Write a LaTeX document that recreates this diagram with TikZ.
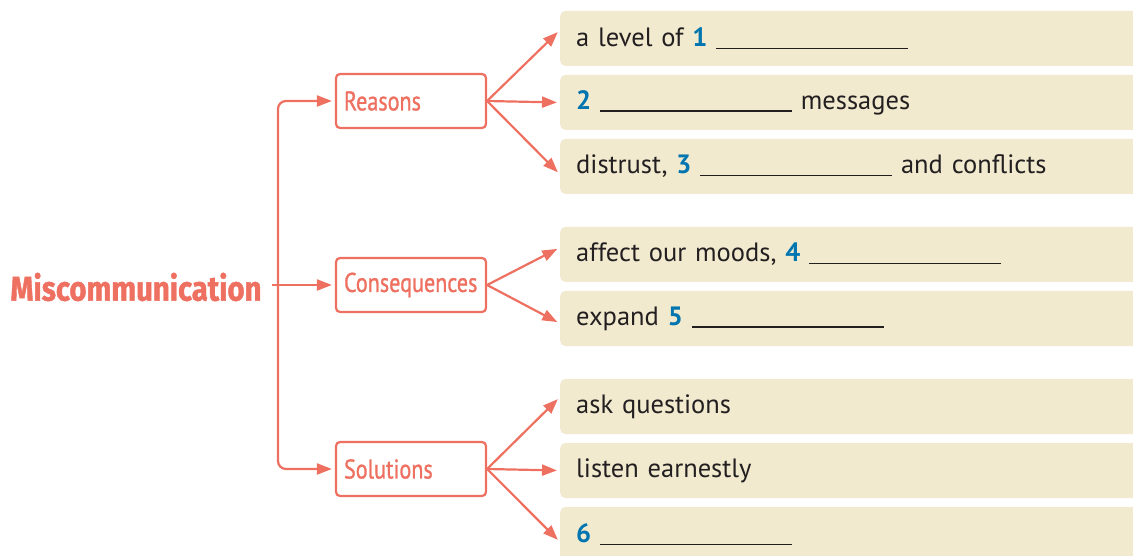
\documentclass[tikz,border=0pt]{standalone}
\usepackage{fontspec}
\setmainfont{PT Sans}
\newfontfamily\condfont[FakeStretch=0.82,FakeBold=1]{PT Sans}
\newfontfamily\headfont[FakeStretch=0.85,FakeBold=1.2]{Fira Sans}
\usetikzlibrary{arrows.meta}
\newcommand\gapline{\rule[-2.5pt]{192pt}{1.3pt}}
\newcommand\qnum[1]{{\color{numColor}\bfseries #1}}

\begin{document}
\begin{tikzpicture}[x=1pt,y=-1pt,
  conn/.style={draw=lineColor,line width=2.2pt,shorten >=3pt,-{Triangle[length=15pt,width=11pt]}},
  topic/.style={draw=lineColor,line width=2.2pt,rounded corners=4pt,fill=white,minimum width=150pt,minimum height=54pt,text width=134pt,align=left,inner xsep=8pt,text=lineColor,font=\condfont\fontsize{27}{30}\selectfont},
  answer/.style={fill=boxColor,rounded corners=5pt,minimum height=55pt,text width=560pt,inner xsep=16pt,anchor=west,align=left,text=textColor,font=\fontsize{26.5}{30}\selectfont}]
\definecolor{lineColor}{RGB}{238,112,96}
\definecolor{boxColor}{RGB}{241,234,207}
\definecolor{textColor}{RGB}{35,31,32}
\definecolor{numColor}{RGB}{0,117,176}
\useasboundingbox (0,0) rectangle (1133,556);

\node[text=lineColor,font=\headfont\bfseries\fontsize{34.5}{38}\selectfont] (misc) at (136,287) {Miscommunication};

\node[topic] (reas) at (411,101) {Reasons};
\node[topic] (cons) at (411,285) {Consequences};
\node[topic] (sol) at (411,469) {Solutions};

\node[answer] (r1) at (560, 38.5) {a level of \qnum{1} \gapline};
\node[answer] (r2) at (560,102.5) {\qnum{2} \gapline{} messages};
\node[answer] (r3) at (560,166.5) {distrust, \qnum{3} \gapline{} and conflicts};
\node[answer] (c1) at (560,254.5) {affect our moods, \qnum{4} \gapline};
\node[answer] (c2) at (560,318.5) {expand \qnum{5} \gapline};
\node[answer] (s1) at (560,406.5) {ask questions};
\node[answer] (s2) at (560,470.5) {listen earnestly};
\node[answer] (s3) at (560,534.5) {\qnum{6} \gapline};

\coordinate (hub) at (272,285);
\coordinate (spine) at (278,285);

\draw[conn] (hub) -- (cons);
\draw[conn,rounded corners=8pt] (spine) |- (reas);
\draw[conn,rounded corners=8pt] (spine) |- (sol);

\draw[conn] (reas.east) -- ([yshift=8.5pt]r1.west);
\draw[conn] (reas.east) -- (r2.west);
\draw[conn] (reas.east) -- ([yshift=-8pt]r3.west);
\draw[conn] (cons.east) -- ([yshift=7pt]c1.west);
\draw[conn] (cons.east) -- ([yshift=-5pt]c2.west);
\draw[conn] (sol.east) -- ([yshift=9.5pt]s1.west);
\draw[conn] (sol.east) -- (s2.west);
\draw[conn] (sol.east) -- ([yshift=-7.5pt]s3.west);
\end{tikzpicture}
\end{document}
